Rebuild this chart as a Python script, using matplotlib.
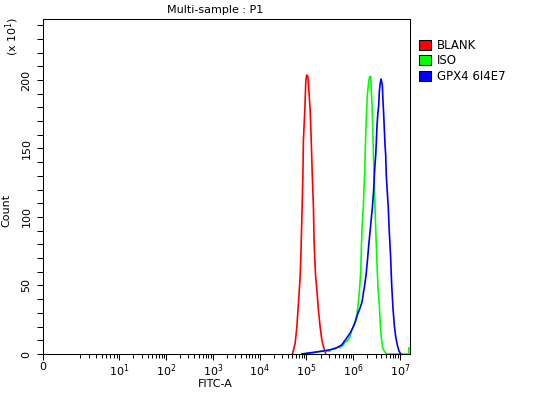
import numpy as np
import matplotlib
matplotlib.use('Agg')
import matplotlib.pyplot as plt
from matplotlib.patches import Patch

# histogram outlines
# x: FITC-A position in decades (log10), y: count in units of 10
blank_log = [4.70, 4.758, 4.795, 4.829, 4.865, 4.880, 4.901, 4.923, 4.935, 4.965, 4.987, 5.008, 5.030,
             5.051, 5.079, 5.100, 5.121, 5.149, 5.164, 5.192, 5.222, 5.256, 5.292, 5.329, 5.363, 5.414]
blank_cnt = [0, 7.8, 19.9, 37, 56.4, 71, 97.8, 129.4, 156.2, 178, 200, 203.6, 202.4,
             192.7, 178, 158.6, 134.3, 107.5, 81, 59, 46.7, 32, 19.9, 10.2, 5.4, 0]

iso_log = [4.901, 5.149, 5.256, 5.399, 5.506, 5.542, 5.613, 5.683, 5.719, 5.790,
           5.826, 5.862, 5.933, 5.969, 6.033, 6.076, 6.104, 6.131, 6.161, 6.174,
           6.189, 6.217, 6.232, 6.247, 6.260, 6.274, 6.289, 6.302, 6.323, 6.349,
           6.375, 6.387, 6.402, 6.417, 6.430, 6.445, 6.460, 6.467, 6.488, 6.509,
           6.531, 6.558, 6.580, 6.601, 6.631, 6.680, 6.716, 7.185, 7.19, 7.214]
iso_cnt = [0, 0.9, 1.7, 2.2, 2.2, 3.4, 3.6, 5.3, 4.6, 6.6,
           9.1, 9.0, 12.6, 17.5, 22.6, 28.5, 35.8, 45.5, 60, 77.4,
           92, 108, 122.6, 132.3, 152.5, 167, 179.6, 189, 196.4, 202.4,
           202.4, 191.4, 181.8, 164.9, 147.6, 133, 113.9, 105.4, 84.7, 65,
           48.2, 35.8, 21.2, 11.7, 4.4, 1.2, 0, 0, 4.4, 4.4]

gpx4_log = [4.901, 5.149, 5.256, 5.399, 5.542, 5.649, 5.755, 5.804, 5.862, 5.933,
            5.990, 6.046, 6.088, 6.146, 6.189, 6.217, 6.247, 6.274, 6.302, 6.332,
            6.360, 6.387, 6.409, 6.424, 6.439, 6.451, 6.467, 6.481, 6.494, 6.509,
            6.524, 6.545, 6.558, 6.573, 6.594, 6.622, 6.637, 6.652, 6.664, 6.680,
            6.694, 6.707, 6.728, 6.750, 6.771, 6.801, 6.822, 6.850, 6.878, 6.908,
            6.942, 6.979, 7.015]
gpx4_cnt = [0, 1.2, 1.7, 2.4, 3.4, 4.6, 6.6, 9.0, 11.7, 15.3,
            19.0, 23.6, 28.5, 33.6, 38.0, 44.5, 50.6, 57.7, 67.5, 79.6,
            89.4, 99.2, 106.6, 113.9, 120.4, 129.9, 138.7, 145.3, 154.9, 167,
            174.5, 181.8, 191.4, 196.4, 200.7, 196.4, 184.2, 174.5, 164.9, 152.5,
            145.3, 130.7, 118.6, 106.6, 89.2, 70, 50.4, 33.6, 21.2, 12.7,
            6.6, 2.2, 0]

labels = ['BLANK', 'ISO', 'GPX4 6I4E7']
colors = ['#ff0000', '#00ff00', '#0000ff']

x_major = [0, 1e1, 1e2, 1e3, 1e4, 1e5, 1e6, 1e7]
x_major_labels = ['0', '10$^{1}$', '10$^{2}$', '10$^{3}$', '10$^{4}$', '10$^{5}$', '10$^{6}$', '10$^{7}$']

plt.rcParams['font.family'] = ['DejaVu Sans']
plt.rcParams['mathtext.default'] = 'regular'

# flow-cytometry style axis: asinh near zero, log above 10
A = 1.644 / np.arcsinh(10)
Y0 = A * np.arcsinh(10)


def fwd(v):
    v = np.asarray(v, float)
    return A * np.arcsinh(np.minimum(v, 10)) + np.log10(np.maximum(v, 10) / 10)


def inv(y):
    y = np.asarray(y, float)
    return np.where(y <= Y0, np.sinh(np.minimum(y, Y0) / A), 10 * 10 ** (np.maximum(y, Y0) - Y0))


fig = plt.figure(figsize=(5.47, 3.93), dpi=100)
ax = fig.add_axes([42.5 / 547, 39 / 393, 367.5 / 547, 335 / 393])

ax.plot(10 ** np.array(blank_log), blank_cnt, color=colors[0], lw=1.2)
ax.plot(10 ** np.array(iso_log), iso_cnt, color=colors[1], lw=1.2)
ax.plot(10 ** np.array(gpx4_log), gpx4_cnt, color=colors[2], lw=1.2)

ax.set_xscale('function', functions=(fwd, inv))
ax.set_xlim(0, 10 ** 7.214)
ax.set_ylim(0, 244.5)

minors = list(range(2, 10))
for d in range(1, 7):
    minors += [k * 10 ** d for k in range(2, 10)]
ax.set_xticks(x_major)
ax.set_xticklabels(x_major_labels)
ax.set_xticks(minors, minor=True)

ax.set_yticks([0, 50, 100, 150, 200])
ax.set_yticks(np.arange(0, 241, 10), minor=True)
for t in ax.get_yticklabels():
    t.set_rotation(90)
    t.set_va('center')

ax.tick_params(axis='both', which='both', direction='out', width=0.75, labelsize=8, colors='black')
ax.tick_params(axis='x', which='major', length=4.5, pad=1.5)
ax.tick_params(axis='x', which='minor', length=3)
ax.tick_params(axis='y', which='both', length=4, pad=4)
for s in ax.spines.values():
    s.set_linewidth(0.75)
    s.set_color('black')

ax.set_title('Multi-sample : P1', fontsize=8, x=0.471, pad=4)
ax.set_xlabel('FITC-A', fontsize=8)
ax.xaxis.set_label_coords(0.471, -0.075)
ax.set_ylabel('Count', fontsize=8)
ax.yaxis.set_label_coords(-0.086, 0.43)
fig.text(12 / 547, 1 - 36 / 393, '(x 10$^{1}$)', rotation=90, fontsize=8, ha='center', va='center')

handles = [Patch(facecolor=c, edgecolor='black', linewidth=0.75) for c in colors]
fig.legend(handles, labels, loc='upper left', bbox_to_anchor=(419 / 547, 1 - 39 / 393),
           frameon=False, fontsize=8.5, handlelength=1.0, handleheight=0.95,
           handletextpad=0.5, labelspacing=0.2, borderaxespad=0, borderpad=0)

fig.savefig('out.png', dpi=100, facecolor='white')
